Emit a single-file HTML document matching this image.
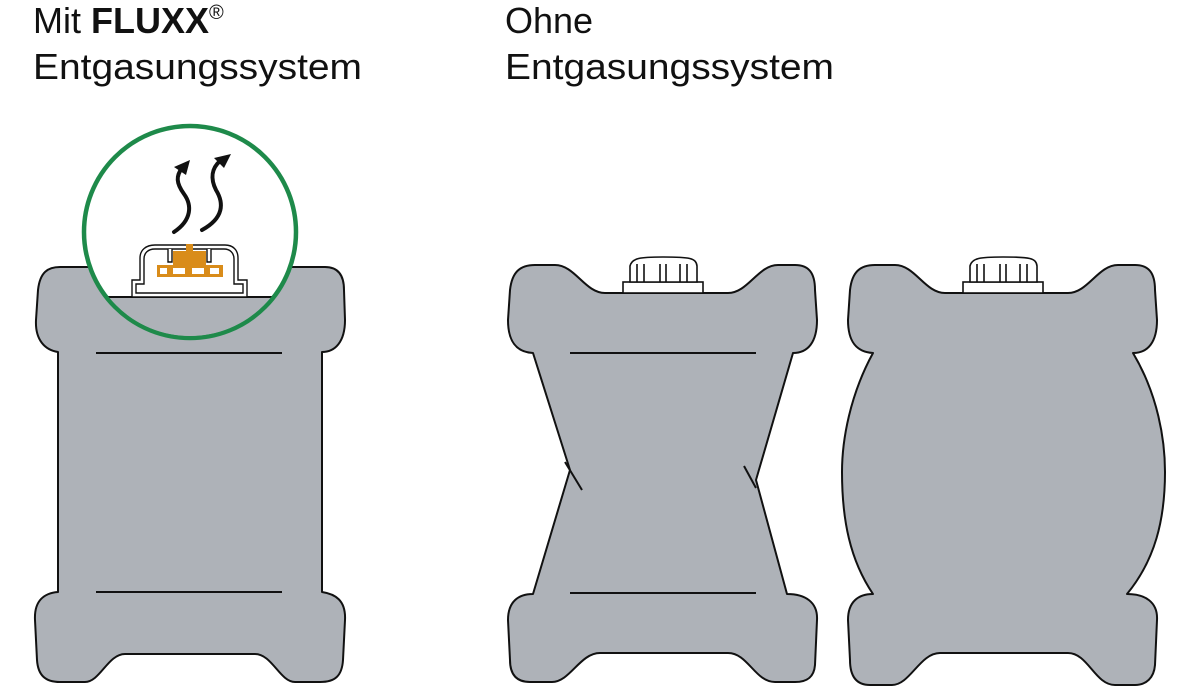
<!DOCTYPE html>
<html><head><meta charset="utf-8"><style>
html,body{margin:0;padding:0;background:#fff;}
svg{display:block;}
text{font-family:"Liberation Sans",Arial,sans-serif;fill:#111;}
</style></head><body>
<svg width="1201" height="688" viewBox="0 0 1201 688" xmlns="http://www.w3.org/2000/svg">
<text x="33" y="33" font-size="36">Mit <tspan font-weight="bold">FLUXX</tspan><tspan font-size="20" dy="-14">®</tspan></text>
<text x="33" y="79" font-size="36" textLength="329" lengthAdjust="spacingAndGlyphs">Entgasungssystem</text>
<text x="505" y="33" font-size="36">Ohne</text>
<text x="505" y="79" font-size="36" textLength="329" lengthAdjust="spacingAndGlyphs">Entgasungssystem</text>

<g fill="#aeb2b8" stroke="#111" stroke-width="2" stroke-linejoin="round">
<path d="M58,352 C45,350 35,340 36,320 L38,290 C40,272 48,267 60,267 L325,267 C338,267 344,275 344,290 L345,320 C345,342 335,352 322,352 L322,592 C335,594 346,600 345,620 L343,660 C342,676 335,682 320,682 L295,682 C280,682 272,654 255,654 L125,654 C108,654 100,682 85,682 L60,682 C45,682 38,675 37,660 L35,620 C34,600 45,593 58,592 Z"/>
<path d="M533,353 C515,352 508,340 508,320 L510,290 C512,272 520,265 535,265 L555,265 C575,265 585,293 605,293 L728,293 C748,293 758,265 778,265 L795,265 C808,265 815,272 815,290 L817,320 C817,342 808,353 793,353 L756,480 L787,594 C805,594 818,602 817,620 L815,665 C814,678 806,682 795,682 L775,682 C755,682 748,653 728,653 L600,653 C580,653 570,682 552,682 L530,682 C518,682 510,676 510,660 L508,620 C508,602 518,594 533,594 L570,470 Z"/>
<path d="M873,353 C855,352 848,340 848,320 L850,290 C852,272 860,265 875,265 L895,265 C915,265 925,293 945,293 L1068,293 C1088,293 1098,265 1118,265 L1135,265 C1148,265 1155,272 1155,290 L1157,320 C1157,342 1148,353 1133,353 C1158,395 1165,440 1165,472 C1165,520 1155,560 1127,594 C1145,594 1158,602 1157,620 L1155,665 C1154,678 1146,685 1135,685 L1115,685 C1095,685 1088,653 1068,653 L940,653 C920,653 910,685 892,685 L870,685 C858,685 850,678 850,660 L848,620 C848,602 858,594 873,594 C850,560 842,520 842,472 C842,440 850,395 873,353 Z"/>
</g>
<g stroke="#111" stroke-width="2" fill="none">
<line x1="96" y1="353" x2="282" y2="353"/><line x1="96" y1="592" x2="282" y2="592"/>
<line x1="570" y1="353" x2="756" y2="353"/><line x1="570" y1="593" x2="756" y2="593"/>
<line x1="565" y1="462" x2="582" y2="490"/><line x1="744" y1="466" x2="756" y2="488"/>
</g>
<g fill="#fff" stroke="#111" stroke-width="1.6">
<rect x="623" y="282" width="80" height="11"/>
<path d="M630,282 L630,266 C632,258 640,257 663,257 C690,257 696,258 697,266 L697,282 Z"/>
<path d="M637,264 V282 M644,264 V282 M660,264 V282 M666,264 V282 M680,264 V282 M687,264 V282"/>
<rect x="963" y="282" width="80" height="11"/>
<path d="M970,282 L970,266 C972,258 980,257 1003,257 C1030,257 1036,258 1037,266 L1037,282 Z"/>
<path d="M977,264 V282 M984,264 V282 M1000,264 V282 M1006,264 V282 M1020,264 V282 M1027,264 V282"/>
</g>
<circle cx="190" cy="232" r="106" fill="#fff" stroke="#1e8a4a" stroke-width="4.5"/>
<clipPath id="cc"><circle cx="190" cy="232" r="104"/></clipPath>
<g clip-path="url(#cc)">
<path d="M30,297 L350,297 L350,345 L30,345 Z" fill="#aeb2b8"/>
<line x1="30" y1="297" x2="350" y2="297" stroke="#111" stroke-width="2"/>
</g>
<g fill="#fff" stroke="#111" stroke-width="1.4">
<path d="M132,297 L132,280 L140,280 L140,258 C140,250 146,245 155,245 L225,245 C233,245 238,250 238,258 L238,280 L247,280 L247,297 Z"/>
<path d="M136,293 L136,284 L144,284 L144,259 C144,253 148,249 155,249 L224,249 C230,249 234,253 234,259 L234,284 L243,284 L243,293 Z"/>
<path d="M168,249 V262 H172 V249 M207,249 V262 H211 V249"/>
</g>
<g fill="#d98c1a">
<rect x="186" y="244" width="7" height="8"/>
<rect x="173" y="251" width="33" height="15"/>
<rect x="157" y="265" width="66" height="12"/>
</g>
<g fill="#fff"><rect x="160" y="268" width="7" height="6"/><rect x="173" y="268" width="12" height="6"/><rect x="192" y="268" width="12" height="6"/><rect x="210" y="268" width="9" height="6"/></g>
<g stroke="#111" stroke-width="4" fill="none" stroke-linecap="round">
<path d="M174,232 C192,220 192,205 184,194 C176,183 176,176 182,168"/>
<path d="M202,230 C224,218 224,203 216,190 C210,178 212,168 220,161"/>
</g>
<g fill="#111">
<path d="M190,160 L174,167 L186,175 Z"/>
<path d="M231,154 L214,158 L224,168 Z"/>
</g>
</svg>
</body></html>
